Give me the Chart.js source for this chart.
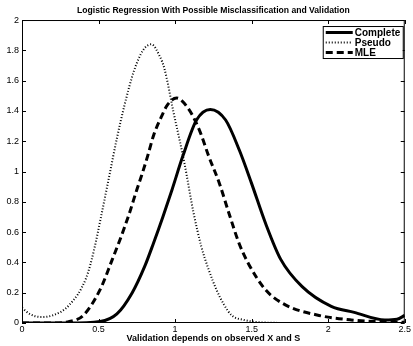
<!DOCTYPE html>
<html>
<head>
<meta charset="utf-8">
<script src="https://cdn.jsdelivr.net/npm/chart.js@4/dist/chart.umd.min.js"></script>
<style>
  html, body { margin: 0; padding: 0; background: #fff; }
  #wrap { width: 413px; height: 346px; }
</style>
</head>
<body>
<div id="wrap"><canvas id="curveChart" width="413" height="346"></canvas></div>
<script>
// valores
const completeX = [0, 0.3, 0.51, 0.62, 0.72, 0.80, 0.86, 0.92, 0.98, 1.05, 1.14, 1.23, 1.33, 1.42, 1.50, 1.59, 1.69, 1.83, 2.02, 2.17, 2.37, 2.45, 2.5];
const completeY = [0, 0, 0.01, 0.06, 0.20, 0.37, 0.53, 0.70, 0.88, 1.10, 1.34, 1.41, 1.34, 1.14, 0.92, 0.66, 0.42, 0.24, 0.11, 0.07, 0.02, 0.025, 0.05];

const pseudoX = [0, 0.05, 0.12, 0.2, 0.31, 0.42, 0.47, 0.52, 0.57, 0.62, 0.67, 0.73, 0.79, 0.845, 0.90, 0.93, 0.99, 1.06, 1.12, 1.17, 1.22, 1.27, 1.32, 1.37, 1.45, 1.55, 1.8, 2.5];
const pseudoY = [0.1, 0.06, 0.04, 0.05, 0.12, 0.30, 0.48, 0.72, 0.97, 1.22, 1.44, 1.66, 1.80, 1.84, 1.76, 1.68, 1.39, 1.06, 0.73, 0.51, 0.35, 0.22, 0.12, 0.05, 0.02, 0.005, 0, 0];

const mleX = [0, 0.2, 0.31, 0.4, 0.51, 0.59, 0.64, 0.70, 0.75, 0.78, 0.82, 0.86, 0.91, 0.95, 1.01, 1.09, 1.16, 1.22, 1.29, 1.35, 1.42, 1.48, 1.59, 1.72, 1.94, 2.15, 2.35, 2.5];
const mleY = [0, 0, 0.01, 0.05, 0.22, 0.42, 0.55, 0.72, 0.88, 0.97, 1.10, 1.24, 1.36, 1.44, 1.485, 1.41, 1.27, 1.10, 0.92, 0.73, 0.52, 0.39, 0.22, 0.12, 0.05, 0.02, 0.008, 0.005];

const xTicks = [0, 0.5, 1, 1.5, 2, 2.5];
const yTicks = [0, 0.2, 0.4, 0.6, 0.8, 1, 1.2, 1.4, 1.6, 1.8, 2];

const fontFam = '"Liberation Sans", Arial, Helvetica, sans-serif';

function toPoints(xs, ys) {
    return xs.map((x, i) => ({ x: x, y: ys[i] }));
}

// ticks hacia adentro en los cuatro lados, estilo matlab
const insideTicks = {
    id: 'insideTicks',
    afterDraw(chart) {
        const ctx = chart.ctx;
        const a = chart.chartArea;
        const xs = chart.scales.x, ys = chart.scales.y;
        ctx.save();
        ctx.strokeStyle = '#000';
        ctx.lineWidth = 1;
        ctx.beginPath();
        xTicks.forEach(v => {
            const px = Math.round(xs.getPixelForValue(v)) + 0.5;
            ctx.moveTo(px, a.bottom); ctx.lineTo(px, a.bottom - 4);
            ctx.moveTo(px, a.top); ctx.lineTo(px, a.top + 4);
        });
        yTicks.forEach(v => {
            const py = Math.round(ys.getPixelForValue(v)) + 0.5;
            ctx.moveTo(a.left, py); ctx.lineTo(a.left + 4, py);
            ctx.moveTo(a.right, py); ctx.lineTo(a.right - 4, py);
        });
        ctx.stroke();
        ctx.strokeRect(a.left + 0.5, a.top + 0.5, a.right - a.left - 1, a.bottom - a.top - 1);
        ctx.restore();
    }
};

// leyenda con caja, arriba a la derecha
const boxLegend = {
    id: 'boxLegend',
    afterDraw(chart) {
        const ctx = chart.ctx;
        const a = chart.chartArea;
        const w = 80, h = 32;
        const x0 = a.right - w - 2, y0 = a.top + 6;
        ctx.save();
        ctx.fillStyle = '#fff';
        ctx.fillRect(x0, y0, w, h);
        ctx.strokeStyle = '#000';
        ctx.lineWidth = 1;
        ctx.strokeRect(x0 + 0.5, y0 + 0.5, w, h);
        ctx.font = 'bold 10px ' + fontFam;
        ctx.textBaseline = 'middle';
        chart.data.datasets.forEach((ds, i) => {
            const y = y0 + 6.5 + i * 10;
            ctx.beginPath();
            ctx.setLineDash(ds.borderDash || []);
            ctx.lineWidth = ds.borderWidth;
            ctx.strokeStyle = '#000';
            ctx.moveTo(x0 + 3, y); ctx.lineTo(x0 + 30, y);
            ctx.stroke();
            ctx.setLineDash([]);
            ctx.fillStyle = '#000';
            ctx.fillText(ds.label, x0 + 32, y + 0.5);
        });
        ctx.restore();
    }
};

const ctx1 = document.getElementById('curveChart').getContext('2d');
const chart1 = new Chart(ctx1, {
    type: 'line',
    data: {
        datasets: [{
            label: 'Complete',
            data: toPoints(completeX, completeY),
            borderColor: '#000',
            borderWidth: 3,
            pointRadius: 0,
            fill: false,
            cubicInterpolationMode: 'monotone'
        }, {
            label: 'Pseudo',
            data: toPoints(pseudoX, pseudoY),
            borderColor: '#000',
            borderWidth: 2,
            borderDash: [1, 2],
            pointRadius: 0,
            fill: false,
            cubicInterpolationMode: 'monotone'
        }, {
            label: 'MLE',
            data: toPoints(mleX, mleY),
            borderColor: '#000',
            borderWidth: 3,
            borderDash: [7, 4],
            pointRadius: 0,
            fill: false,
            cubicInterpolationMode: 'monotone'
        }]
    },
    options: {
        responsive: false,
        animation: false,
        layout: { padding: { right: 5, left: 0, top: 0, bottom: 0 } },
        plugins: {
            legend: { display: false },
            tooltip: { enabled: false },
            title: {
                display: true,
                fullSize: false,
                text: 'Logistic Regression With Possible Misclassification and Validation',
                color: '#000',
                font: { family: fontFam, size: 8.6, weight: 'bold', lineHeight: 1.2 },
                padding: { top: 5, bottom: 4.7 }
            }
        },
        scales: {
            x: {
                type: 'linear',
                min: 0,
                max: 2.5,
                afterBuildTicks: s => { s.ticks = xTicks.map(v => ({ value: v })); },
                afterFit: s => { s.height = 23; },
                grid: { display: false, drawTicks: false },
                border: { display: false },
                ticks: {
                    color: '#000',
                    padding: 2,
                    maxRotation: 0,
                    font: { family: fontFam, size: 9, lineHeight: 1 },
                    callback: v => String(v)
                },
                title: {
                    display: true,
                    text: 'Validation depends on observed X and S',
                    color: '#000',
                    padding: { top: 0, bottom: 3 },
                    font: { family: fontFam, size: 9, weight: 'bold', lineHeight: 1 }
                }
            },
            y: {
                min: 0,
                max: 2,
                afterBuildTicks: s => { s.ticks = yTicks.map(v => ({ value: v })); },
                afterFit: s => { s.width = 22; },
                grid: { display: false, drawTicks: false },
                border: { display: false },
                ticks: {
                    color: '#000',
                    padding: 3,
                    font: { family: fontFam, size: 9 },
                    callback: v => String(Math.round(v * 10) / 10)
                }
            }
        }
    },
    plugins: [insideTicks, boxLegend]
});
</script>
</body>
</html>
